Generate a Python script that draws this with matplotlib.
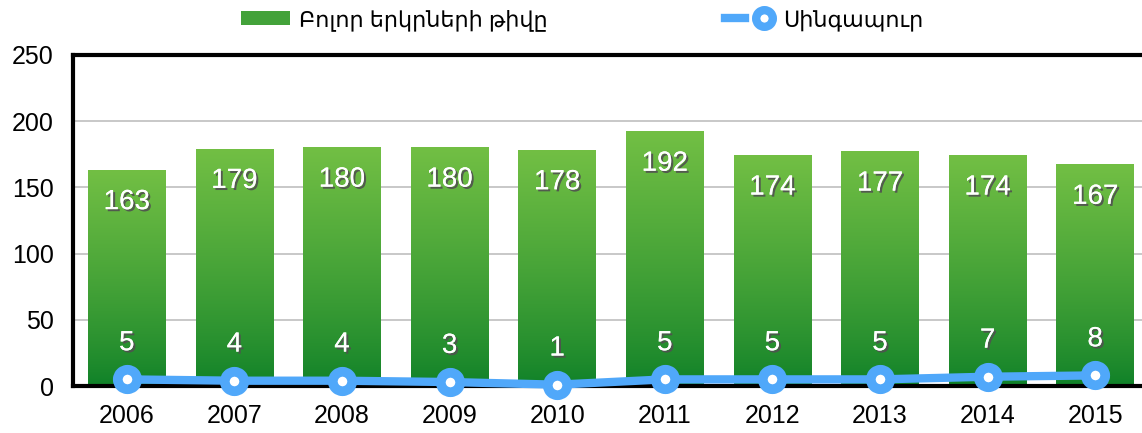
import numpy as np
import matplotlib as mpl
import matplotlib.pyplot as plt
import matplotlib.patheffects as pe
from matplotlib.lines import Line2D
from matplotlib.patches import Patch
from matplotlib.legend_handler import HandlerTuple

years = ["2006", "2007", "2008", "2009", "2010", "2011", "2012", "2013", "2014", "2015"]
all_countries = [163, 179, 180, 180, 178, 192, 174, 177, 174, 167]
singapore = [5, 4, 4, 3, 1, 5, 5, 5, 7, 8]
yticks = [0, 50, 100, 150, 200, 250]

bar_label = "Բոլոր երկրների թիվը"
line_label = "Սինգապուր"

plt.rcParams["font.family"] = ["Liberation Sans", "DejaVu Sans"]

BLUE = "#50a8fa"
LIGHT = np.array([114, 191, 68]) / 255
DARK = np.array([14, 128, 40]) / 255

fig = plt.figure(figsize=(11.42, 4.33), dpi=100)
ax = fig.add_axes([73 / 1142, 1 - 386 / 433, 1076 / 1142, 331 / 433])

x = np.arange(len(years))
bars = ax.bar(x, all_countries, width=0.72, color="none", zorder=2)

# vertical gradient inside each bar, light at top, dark at the base
t = np.linspace(0, 1, 256) ** 0.8
grad = t[:, None, None]
img = np.clip(DARK * (1 - grad) + LIGHT * grad, 0, 1)
for b in bars:
    x0, w, h = b.get_x(), b.get_width(), b.get_height()
    ax.imshow(img, extent=(x0, x0 + w, 0, h), origin="lower",
              aspect="auto", zorder=2, interpolation="bicubic")

shadow = [pe.withSimplePatchShadow(offset=(1.5, -1.5), shadow_rgbFace="#505050", alpha=0.9),
          pe.Normal()]

for xi, v in zip(x, all_countries):
    ax.annotate(str(v), (xi, v), xytext=(0, -23), textcoords="offset points",
                ha="center", va="center", fontsize=20, color="white",
                path_effects=shadow, zorder=5)

ax.plot(x, singapore, color=BLUE, lw=6, marker="o", ms=14, mew=7,
        mfc="white", mec=BLUE, zorder=4, clip_on=False, solid_capstyle="butt")

for xi, v in zip(x, singapore):
    ax.annotate(str(v), (xi, v), xytext=(0, 26), textcoords="offset points",
                ha="center", va="center", fontsize=20, color="white",
                path_effects=shadow, zorder=5)

ax.set_xlim(-0.5, len(years) - 0.5)
ax.set_ylim(0, 250)
ax.set_yticks(yticks)
ax.set_xticks(x)
ax.set_xticklabels(years)
ax.tick_params(length=0, labelsize=18)
ax.tick_params(axis="x", pad=13)
ax.tick_params(axis="y", pad=14)
ax.yaxis.grid(True, color="#c4c4c4", lw=1.3)
ax.set_axisbelow(True)

for s in ["left", "top", "bottom"]:
    ax.spines[s].set_linewidth(3)
    ax.spines[s].set_color("black")
ax.spines["right"].set_visible(False)

bar_handle = Patch(facecolor="#43a23a", edgecolor="none")
line_handle = (Line2D([], [], color=BLUE, lw=6),
               Line2D([], [], ls="none", marker="o", ms=12, mew=6, mfc="white", mec=BLUE))
fig.legend([bar_handle, line_handle], [bar_label, line_label],
           handler_map={tuple: HandlerTuple(ndivide=None)},
           loc="center", bbox_to_anchor=(582 / 1142, 1 - 20 / 433), ncol=2,
           frameon=False, fontsize=16, handlelength=2.2, handleheight=0.6,
           columnspacing=8, handletextpad=0.4)

fig.savefig("out.png", dpi=100)
